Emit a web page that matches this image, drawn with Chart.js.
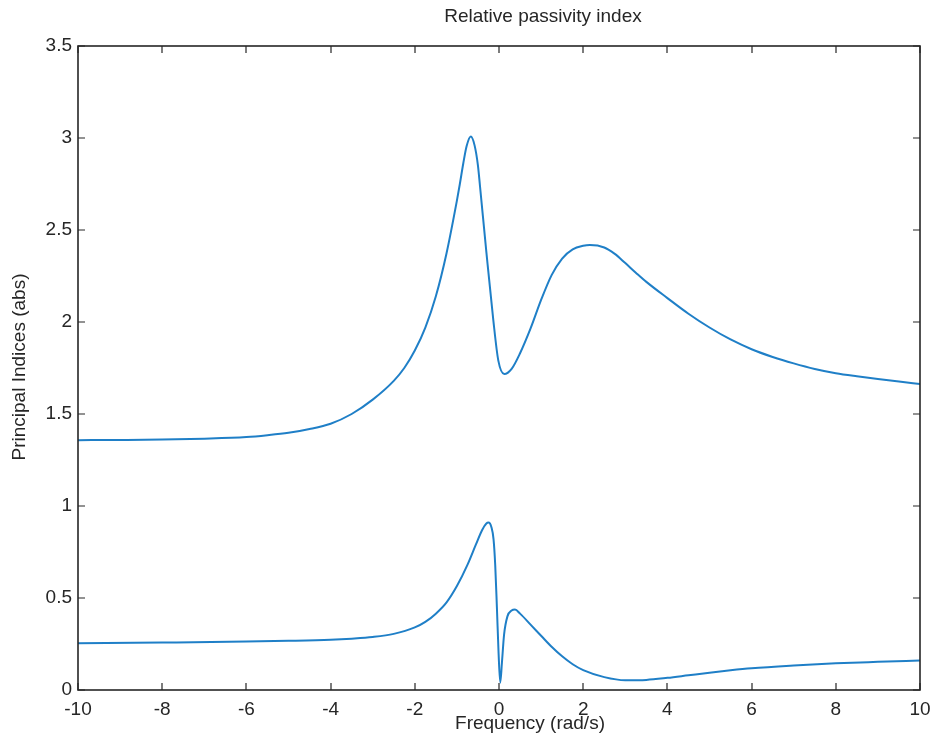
<!DOCTYPE html>
<html>
<head>
<meta charset="utf-8">
<title>Relative passivity index</title>
<script src="https://cdn.jsdelivr.net/npm/chart.js@4.4.1/dist/chart.umd.min.js"></script>
<style>
  html, body { margin: 0; padding: 0; background: #fff; }
  #wrap { width: 934px; height: 736px; }
</style>
</head>
<body>
<div id="wrap"><canvas id="passivity" width="934" height="736"></canvas></div>
<script>
"use strict";

// upper principal index
const freqUpper = [-10, -9, -8, -7, -6, -5.5, -5, -4.5, -4, -3.5, -3, -2.5, -2.25, -2, -1.75, -1.5, -1.25, -1.0, -0.93, -0.85, -0.77, -0.67, -0.58, -0.5, -0.45, -0.3, -0.135, -0.016, 0.126, 0.3, 0.5, 0.75, 1.0, 1.25, 1.5, 1.75, 2.0, 2.16, 2.5, 2.75, 3.0, 3.25, 3.5, 4.0, 4.5, 5.0, 5.5, 6.0, 6.5, 7.0, 7.5, 8.0, 8.5, 9.0, 9.5, 10];
const indexUpper = [1.358, 1.359, 1.361, 1.366, 1.375, 1.385, 1.398, 1.418, 1.447, 1.50, 1.578, 1.68, 1.75, 1.845, 1.97, 2.14, 2.37, 2.66, 2.75, 2.86, 2.955, 3.008, 2.96, 2.85, 2.735, 2.38, 2.01, 1.79, 1.717, 1.745, 1.83, 1.965, 2.12, 2.255, 2.345, 2.395, 2.414, 2.418, 2.405, 2.37, 2.32, 2.268, 2.218, 2.13, 2.045, 1.97, 1.905, 1.852, 1.81, 1.775, 1.745, 1.722, 1.705, 1.69, 1.676, 1.663];

// lower principal index
const freqLower = [-10, -8, -6, -5, -4, -3.5, -3, -2.5, -2, -1.75, -1.5, -1.25, -1.0, -0.75, -0.55, -0.4, -0.3, -0.25, -0.18, -0.13, -0.09, -0.05, -0.01, 0.03, 0.07, 0.12, 0.2, 0.3, 0.38, 0.5, 0.75, 1.0, 1.25, 1.5, 1.75, 2.0, 2.5, 3.0, 3.5, 4.0, 4.5, 5.0, 5.5, 6.0, 7.0, 8.0, 9.0, 10];
const indexLower = [0.254, 0.258, 0.263, 0.267, 0.273, 0.279, 0.288, 0.305, 0.34, 0.37, 0.415, 0.475, 0.565, 0.68, 0.79, 0.87, 0.905, 0.91, 0.885, 0.82, 0.68, 0.45, 0.2, 0.04, 0.15, 0.3, 0.4, 0.432, 0.437, 0.415, 0.355, 0.295, 0.235, 0.183, 0.14, 0.108, 0.07, 0.053, 0.055, 0.066, 0.08, 0.094, 0.107, 0.118, 0.133, 0.145, 0.153, 0.16];

const xTicks = [-10, -8, -6, -4, -2, 0, 2, 4, 6, 8, 10];
const yTicks = [0, 0.5, 1, 1.5, 2, 2.5, 3, 3.5];

const FONT = '"Liberation Sans", Arial, Helvetica, sans-serif';
const INK = '#262626';
const LINE = '#1f7fc7';

function toPoints(xs, ys) {
    return xs.map((x, i) => ({ x: x, y: ys[i] }));
}

// matlab style box: frame, inward ticks on all sides, title and axis labels
const framePlugin = {
    id: 'matlabFrame',
    afterDraw(chart) {
        const ctx = chart.ctx;
        const a = chart.chartArea;
        const sx = chart.scales.x;
        const sy = chart.scales.y;
        const tl = 7;

        ctx.save();
        ctx.strokeStyle = INK;
        ctx.lineWidth = 1.2;
        ctx.beginPath();
        xTicks.forEach(v => {
            const px = Math.round(sx.getPixelForValue(v));
            ctx.moveTo(px, a.bottom); ctx.lineTo(px, a.bottom - tl);
            ctx.moveTo(px, a.top); ctx.lineTo(px, a.top + tl);
        });
        yTicks.forEach(v => {
            const py = Math.round(sy.getPixelForValue(v));
            ctx.moveTo(a.left, py); ctx.lineTo(a.left + tl, py);
            ctx.moveTo(a.right, py); ctx.lineTo(a.right - tl, py);
        });
        ctx.stroke();

        ctx.lineWidth = 1.6;
        ctx.strokeRect(a.left, a.top, a.right - a.left, a.bottom - a.top);

        ctx.fillStyle = INK;
        ctx.font = '19px ' + FONT;
        ctx.textAlign = 'center';
        ctx.textBaseline = 'middle';
        ctx.fillText('Relative passivity index', 543, 17);
        ctx.fillText('Frequency (rad/s)', 530, 724);

        ctx.translate(20, 367);
        ctx.rotate(-Math.PI / 2);
        ctx.fillText('Principal Indices (abs)', 0, 0);
        ctx.restore();
    }
};

const lineStyle = {
    showLine: true,
    borderColor: LINE,
    backgroundColor: LINE,
    borderWidth: 2,
    pointRadius: 0,
    fill: false,
    cubicInterpolationMode: 'monotone',
};

const config = {
    type: 'scatter',
    data: {
        datasets: [
            Object.assign({ label: 'index 1', data: toPoints(freqUpper, indexUpper) }, lineStyle),
            Object.assign({ label: 'index 2', data: toPoints(freqLower, indexLower) }, lineStyle),
        ]
    },
    options: {
        responsive: false,
        animation: false,
        layout: {
            padding: { left: 0, top: 46, right: 14, bottom: 0 }
        },
        plugins: {
            legend: { display: false },
            title: { display: false },
            tooltip: { enabled: false },
        },
        scales: {
            x: {
                type: 'linear',
                min: -10,
                max: 10,
                afterBuildTicks: s => { s.ticks = xTicks.map(v => ({ value: v })); },
                afterFit: s => { s.height = 46; s.paddingLeft = 0; s.paddingRight = 0; },
                grid: { display: false, drawTicks: false },
                border: { display: false },
                ticks: {
                    color: INK,
                    padding: 8,
                    autoSkip: false,
                    maxRotation: 0,
                    callback: v => String(v),
                    font: { family: FONT, size: 19 },
                },
            },
            y: {
                type: 'linear',
                min: 0,
                max: 3.5,
                afterBuildTicks: s => { s.ticks = yTicks.map(v => ({ value: v })); },
                afterFit: s => { s.width = 78; s.paddingTop = 0; s.paddingBottom = 0; },
                grid: { display: false, drawTicks: false },
                border: { display: false },
                ticks: {
                    color: INK,
                    padding: 6,
                    autoSkip: false,
                    callback: v => String(v),
                    font: { family: FONT, size: 19 },
                },
            },
        },
    },
    plugins: [framePlugin],
};

new Chart(document.getElementById('passivity'), config);
</script>
</body>
</html>
